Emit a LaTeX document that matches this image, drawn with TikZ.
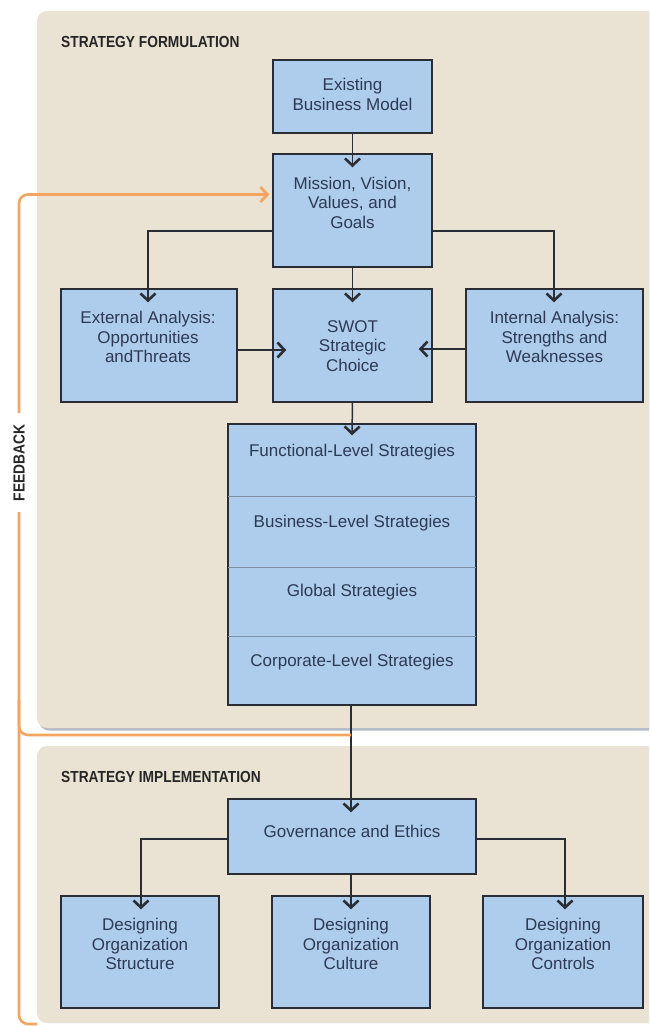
\documentclass[tikz,border=0pt]{standalone}
\usepackage{fontspec}
\setmainfont{Liberation Sans}
\newfontfamily\titlefont[FakeStretch=0.86]{Liberation Sans}
\usetikzlibrary{arrows.meta,calc}
\definecolor{panelc}{HTML}{EAE3D3}
\definecolor{boxc}{HTML}{AECCEB}
\definecolor{edgec}{HTML}{2A2D33}
\definecolor{txtc}{HTML}{2D3A55}
\definecolor{fbc}{HTML}{F4A660}
\definecolor{divc}{HTML}{7F8FA3}
\definecolor{shadc}{HTML}{B4B9C8}
\begin{document}
\begin{tikzpicture}[x=1pt,y=-1pt,
  box/.style={draw=edgec, fill=boxc, line width=1.5pt, inner sep=0pt},
  txt/.style={text=txtc, font=\fontsize{17}{19.5}\selectfont, align=center, inner sep=0pt},
  arr/.style={draw=edgec, line width=1.5pt, -{Straight Barb[length=7pt,width=15pt,line width=2.6pt]}},
  ln/.style={draw=edgec, line width=1.5pt},
  divl/.style={draw=divc, line width=0.9pt},
  fb/.style={draw=fbc, line width=2.6pt, rounded corners=9pt},
  fbarr/.style={-{Straight Barb[length=7pt,width=15pt,line width=2.8pt]}},
  ttl/.style={font=\titlefont\fontsize{16}{18}\selectfont\bfseries, text=black!85, inner sep=0pt, anchor=west},
  panel/.style={fill=panelc, rounded corners=10pt}
]
\useasboundingbox (0,0) rectangle (649,1026);
\clip (0,0) rectangle (649,1026);
\fill[white] (0,0) rectangle (649,1026);

% panels
\fill[shadc, rounded corners=10pt] (39,14) rectangle (680,730.5);
\fill[panel] (37,11) rectangle (680,728);
\fill[panel] (37,746) rectangle (680,1023);

% titles
\node[ttl] (t1) at (61,42) {STRATEGY FORMULATION};
\node[ttl] (t2) at (61,777) {STRATEGY IMPLEMENTATION};

% boxes
\node[box, minimum width=159pt, minimum height=73pt] (exist) at (352.5,96.5) {};
\node[box, minimum width=159pt, minimum height=113pt] (mission) at (352.5,210.5) {};
\node[box, minimum width=176pt, minimum height=113pt] (ext) at (149,345.5) {};
\node[box, minimum width=159pt, minimum height=113pt] (swot) at (352.5,345.5) {};
\node[box, minimum width=177pt, minimum height=113pt] (int) at (554.5,345.5) {};
\node[box, minimum width=248pt, minimum height=281pt] (func) at (352,564.5) {};
\node[box, minimum width=248pt, minimum height=75pt] (gov) at (352,836.5) {};
\node[box, minimum width=158pt, minimum height=112pt] (d1) at (140,952) {};
\node[box, minimum width=158pt, minimum height=112pt] (d2) at (351,952) {};
\node[box, minimum width=160pt, minimum height=112pt] (d3) at (563,952) {};

% dividers
\draw[divl] ($(func.west |- 0,496)+(0.8,0)$) -- ($(func.east |- 0,496)+(-0.8,0)$);
\draw[divl] ($(func.west |- 0,567)+(0.8,0)$) -- ($(func.east |- 0,567)+(-0.8,0)$);
\draw[divl] ($(func.west |- 0,636)+(0.8,0)$) -- ($(func.east |- 0,636)+(-0.8,0)$);

% texts
\node[txt] (existT) at (352.5,94.5) {Existing\\Business Model};
\node[txt] (missionT) at (352.5,202.5) {Mission, Vision,\\Values, and\\Goals};
\node[txt] (extT) at (148,337) {External Analysis:\\Opportunities\\andThreats};
\node[txt] (swotT) at (352.5,346) {SWOT\\Strategic\\Choice};
\node[txt] (intT) at (554.5,337) {Internal Analysis:\\Strengths and\\Weaknesses};
\node[txt] (f1) at (352,452) {Functional-Level Strategies};
\node[txt] (f2) at (352,523) {Business-Level Strategies};
\node[txt] (f3) at (352,592) {Global Strategies};
\node[txt] (f4) at (352,662) {Corporate-Level Strategies};
\node[txt] (govT) at (352,831) {Governance and Ethics};
\node[txt] (d1T) at (140,944) {Designing\\Organization\\Structure};
\node[txt] (d2T) at (351,944) {Designing\\Organization\\Culture};
\node[txt] (d3T) at (563,944) {Designing\\Organization\\Controls};

% connectors
\draw[arr] (exist.south) -- ($(mission.north)+(0,14)$);
\draw[arr] (mission.south) -- ($(swot.north)+(0,14)$);
\draw[arr] ($(mission.west)+(0,20.5)$) -| ($(ext.north)+(-1,14)$);
\draw[arr] ($(mission.east)+(0,20.5)$) -| ($(int.north)+(-0.5,14)$);
\draw[arr] ($(ext.east)+(0,4.5)$) -- ($(swot.west)+(14,4.5)$);
\draw[arr] ($(int.west)+(0,3.5)$) -- ($(swot.east)+(-14,3.5)$);
\draw[arr] (swot.south) -- ($(func.north)+(0,12)$);
\coordinate (junc) at ($(func.south |- 0,735)+(-1,0)$);
\draw[arr] ($(func.south)+(-1,0)$) -- ($(gov.north)+(-1,14)$);
\draw[arr] ($(gov.west)+(0,2.5)$) -| ($(d1.north)+(1,14)$);
\draw[arr] (gov.south -| d2.north) -- ($(d2.north)+(0,14)$);
\draw[arr] ($(gov.east)+(0,2.5)$) -| ($(d3.north)+(2,14)$);

% feedback
\coordinate (fbtop) at (19,413);
\coordinate (fbbot) at (19,512);
\coordinate (fbend) at (37,1024);
\draw[fb, fbarr] (fbtop) |- ($(mission.west)+(-3,-16)$);
\draw[fb] (fbbot) |- (fbend);
\draw[fb] (junc) -| (19,700);
\node[ttl, anchor=center, rotate=90] (fbl) at (19,463) {FEEDBACK};
\end{tikzpicture}
\end{document}
